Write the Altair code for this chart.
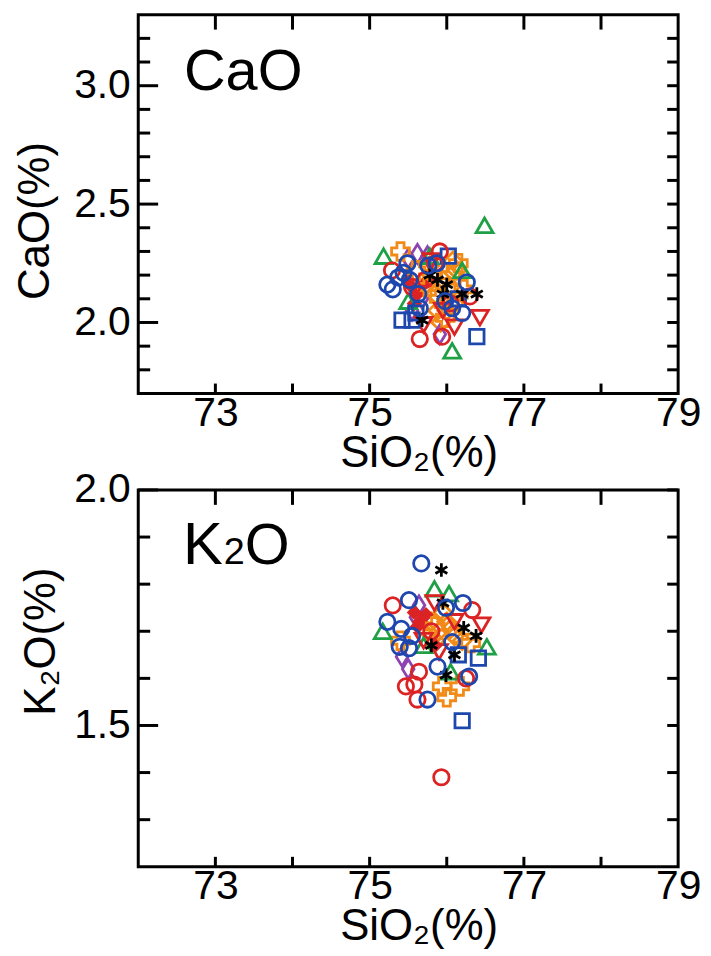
import altair as alt
import pandas as pd

# ---------------- data: upper panel (SiO2 vs CaO) ----------------
CAO_RED_CIRCLE_SIO2 = [75.91, 75.29, 76.30, 75.65, 75.94, 75.55, 75.72, 76.05, 75.85]
CAO_RED_CIRCLE_CAO = [2.30, 2.22, 2.11, 1.93, 1.94, 2.15, 2.18, 2.08, 2.25]
CAO_BLUE_CIRCLE_SIO2 = [75.49, 75.76, 75.87, 75.23, 75.37, 75.44, 76.26, 75.63, 75.65, 75.98, 76.07, 76.20, 75.30, 75.52]
CAO_BLUE_CIRCLE_CAO = [2.25, 2.24, 2.25, 2.16, 2.19, 2.21, 2.17, 2.12, 2.06, 2.09, 2.06, 2.04, 2.14, 2.18]
CAO_BLUE_SQUARE_SIO2 = [75.42, 75.55, 76.39, 75.60, 76.15, 76.02]
CAO_BLUE_SQUARE_CAO = [2.01, 2.01, 1.94, 2.04, 2.10, 2.28]
CAO_GREEN_TRI_SIO2 = [76.49, 75.18, 75.78, 76.07, 75.50, 76.20]
CAO_GREEN_TRI_CAO = [2.41, 2.28, 2.28, 1.88, 2.09, 2.22]
CAO_RED_TRIDOWN_SIO2 = [76.43, 75.80, 75.70, 76.10, 75.95]
CAO_RED_TRIDOWN_CAO = [2.02, 2.26, 1.99, 1.98, 2.05]
CAO_ORANGE_CROSS_SIO2 = [75.40, 75.75, 76.05, 76.15, 75.90, 75.60, 76.22, 75.98]
CAO_ORANGE_CROSS_CAO = [2.30, 2.15, 2.20, 2.25, 2.10, 2.22, 2.14, 2.02]
CAO_ORANGE_DIAMOND_SIO2 = [75.85, 75.95, 76.00, 76.10, 75.80, 75.70, 76.13, 75.92, 76.05, 75.88, 76.00, 75.78, 76.08]
CAO_ORANGE_DIAMOND_CAO = [2.12, 2.18, 2.05, 2.08, 2.20, 2.15, 2.22, 2.00, 2.15, 2.05, 2.10, 2.24, 2.26]
CAO_PURPLE_DIAMOND_SIO2 = [75.62, 75.50, 75.68, 75.91, 75.75, 75.55]
CAO_PURPLE_DIAMOND_CAO = [2.29, 2.27, 2.10, 1.95, 2.28, 2.05]
CAO_RED_FILLED_SIO2 = [75.55, 75.62, 75.50, 75.70, 75.58]
CAO_RED_FILLED_CAO = [2.15, 2.12, 2.18, 2.16, 2.08]
CAO_ASTERISK_SIO2 = [76.20, 76.39, 75.68, 75.88, 76.00, 75.95, 75.78]
CAO_ASTERISK_CAO = [2.12, 2.12, 2.01, 2.18, 2.16, 2.12, 2.20]

# ---------------- data: lower panel (SiO2 vs K2O) ----------------
K2O_RED_CIRCLE_SIO2 = [75.30, 76.33, 75.64, 75.47, 75.58, 75.62, 75.93, 75.80, 76.25]
K2O_RED_CIRCLE_K2O = [1.755, 1.745, 1.614, 1.583, 1.587, 1.555, 1.39, 1.70, 1.60]
K2O_BLUE_CIRCLE_SIO2 = [75.67, 75.51, 75.99, 76.21, 75.23, 75.41, 76.07, 75.39, 75.51, 75.88, 76.29, 75.75, 75.55]
K2O_BLUE_CIRCLE_K2O = [1.844, 1.766, 1.75, 1.76, 1.72, 1.705, 1.677, 1.667, 1.664, 1.625, 1.604, 1.555, 1.69]
K2O_BLUE_SQUARE_SIO2 = [76.41, 76.20, 76.15]
K2O_BLUE_SQUARE_K2O = [1.643, 1.51, 1.65]
K2O_GREEN_TRI_SIO2 = [75.84, 76.03, 75.17, 76.52, 76.05, 75.70]
K2O_GREEN_TRI_K2O = [1.79, 1.78, 1.70, 1.667, 1.614, 1.67]
K2O_RED_TRIDOWN_SIO2 = [75.84, 76.45, 75.90, 75.70, 76.10]
K2O_RED_TRIDOWN_K2O = [1.76, 1.713, 1.656, 1.68, 1.72]
K2O_ORANGE_CROSS_SIO2 = [76.31, 75.94, 76.00, 76.17, 75.85, 75.40]
K2O_ORANGE_CROSS_K2O = [1.675, 1.583, 1.56, 1.583, 1.71, 1.68]
K2O_ORANGE_DIAMOND_SIO2 = [75.80, 75.90, 76.00, 76.10, 75.85, 75.95, 76.20, 75.75, 76.05]
K2O_ORANGE_DIAMOND_K2O = [1.72, 1.70, 1.72, 1.69, 1.68, 1.74, 1.68, 1.70, 1.705]
K2O_PURPLE_DIAMOND_SIO2 = [75.64, 75.42, 75.50, 75.60]
K2O_PURPLE_DIAMOND_K2O = [1.755, 1.646, 1.62, 1.73]
K2O_RED_FILLED_SIO2 = [75.58, 75.65, 75.73, 75.62, 75.85]
K2O_RED_FILLED_K2O = [1.74, 1.72, 1.735, 1.71, 1.67]
K2O_ASTERISK_SIO2 = [75.93, 76.22, 76.38, 75.99, 75.80, 76.10, 75.95]
K2O_ASTERISK_K2O = [1.83, 1.707, 1.69, 1.607, 1.67, 1.65, 1.76]

# ---------------- axis ticks / labels ----------------
X_LABELS = [73, 75, 77, 79]
X_TICKS = [73, 74, 75, 76, 77, 78]
CAO_LABELS = [2.0, 2.5, 3.0]
CAO_MINOR = [1.8, 1.9, 2.1, 2.2, 2.3, 2.4, 2.6, 2.7, 2.8, 2.9, 3.1, 3.2]
K2O_LABELS = [1.5, 2.0]
K2O_MINOR = [1.3, 1.4, 1.6, 1.7, 1.8, 1.9]

FONT = "Liberation Sans, Arial, Helvetica, sans-serif"
RED, BLUE, GREEN = "#dc2323", "#1d47ad", "#1fa045"
ORANGE, PURPLE, BLACK = "#f28a17", "#8e44b0", "#000000"
ASTERISK = "M0,-1L0,1M-0.866,-0.5L0.866,0.5M-0.866,0.5L0.866,-0.5"
TALL_DIAMOND = "M0,-1L0.62,0L0,1L-0.62,0Z"

STYLES = {
    "red_circle": dict(shape="circle", color=RED, size=240, filled=False),
    "blue_circle": dict(shape="circle", color=BLUE, size=240, filled=False),
    "blue_square": dict(shape="square", color=BLUE, size=210, filled=False),
    "green_tri": dict(shape="triangle-up", color=GREEN, size=290, filled=False),
    "red_tridown": dict(shape="triangle-down", color=RED, size=290, filled=False),
    "orange_cross": dict(shape="cross", color=ORANGE, size=320, filled=False),
    "orange_diamond": dict(shape="diamond", color=ORANGE, size=320, filled=False),
    "purple_diamond": dict(shape=TALL_DIAMOND, color=PURPLE, size=360, filled=False),
    "red_filled": dict(shape="diamond", color=RED, size=240, filled=True),
    "asterisk": dict(shape=ASTERISK, color=BLACK, size=190, filled=False),
}

W = 543


def panel(series, ydomain, ylabels, yminor, ytitle, title_x, title_y, height, label_layers):
    xscale = alt.Scale(domain=[72, 79], nice=False, zero=False)
    yscale = alt.Scale(domain=ydomain, nice=False, zero=False)
    xaxis = alt.Axis(values=X_LABELS, format="d", ticks=False, domain=False, grid=False,
                     labelFontSize=41, labelPadding=0, labelFlush=False, labelOverlap=False,
                     title="SiO₂(%)", titleFontSize=44, titleX=282, titleY=73,
                     titleAlign="center", titleBaseline="alphabetic")
    yaxis = alt.Axis(values=ylabels, format=".1f", ticks=False, domain=False, grid=False,
                     labelFontSize=41, labelPadding=8, labelFlush=False, labelOverlap=False,
                     title=ytitle, titleFontSize=44, titleAngle=270, titleX=title_x, titleY=title_y,
                     titleAlign="center", titleBaseline="alphabetic")
    X = lambda f: alt.X(f, scale=xscale, axis=xaxis)
    Y = lambda f: alt.Y(f, scale=yscale, axis=yaxis)
    layers = []
    for key, xs, ys in series:
        st = STYLES[key]
        df = pd.DataFrame({"SiO2": xs, "val": ys})
        mark = alt.Chart(df).mark_point(shape=st["shape"], size=st["size"], filled=st["filled"],
                                        color=st["color"], opacity=1,
                                        strokeWidth=(0 if st["filled"] else 2.8))
        layers.append(mark.encode(x=X("SiO2:Q"), y=Y("val:Q")))

    def yrule(vals, x0, x1):
        return alt.Chart(pd.DataFrame({"t": vals})).mark_rule(color="black", strokeWidth=3).encode(
            y=Y("t:Q"), x=alt.value(x0), x2=alt.value(x1))

    def xrule(vals, y0, y1):
        return alt.Chart(pd.DataFrame({"t": vals})).mark_rule(color="black", strokeWidth=3).encode(
            x=X("t:Q"), y=alt.value(y0), y2=alt.value(y1))

    layers += [
        yrule(yminor, 0, 12),
        yrule(ylabels, 0, 20),
        yrule(yminor + ylabels, W - 11, W),
        xrule(X_TICKS, 0, 15),
        xrule(X_TICKS, height - 10, height),
    ]
    layers += label_layers
    return alt.layer(*layers).properties(width=W, height=height)


def text_layer(t, x, y, size):
    return alt.Chart(pd.DataFrame({"t": [t]})).mark_text(
        align="left", baseline="alphabetic", fontSize=size, font=FONT, color="black").encode(
        text="t:N", x=alt.value(x), y=alt.value(y))


top_series = [
    ("orange_diamond", CAO_ORANGE_DIAMOND_SIO2, CAO_ORANGE_DIAMOND_CAO),
    ("purple_diamond", CAO_PURPLE_DIAMOND_SIO2, CAO_PURPLE_DIAMOND_CAO),
    ("red_filled", CAO_RED_FILLED_SIO2, CAO_RED_FILLED_CAO),
    ("orange_cross", CAO_ORANGE_CROSS_SIO2, CAO_ORANGE_CROSS_CAO),
    ("green_tri", CAO_GREEN_TRI_SIO2, CAO_GREEN_TRI_CAO),
    ("red_tridown", CAO_RED_TRIDOWN_SIO2, CAO_RED_TRIDOWN_CAO),
    ("blue_square", CAO_BLUE_SQUARE_SIO2, CAO_BLUE_SQUARE_CAO),
    ("red_circle", CAO_RED_CIRCLE_SIO2, CAO_RED_CIRCLE_CAO),
    ("asterisk", CAO_ASTERISK_SIO2, CAO_ASTERISK_CAO),
    ("blue_circle", CAO_BLUE_CIRCLE_SIO2, CAO_BLUE_CIRCLE_CAO),
]
bottom_series = [
    ("orange_diamond", K2O_ORANGE_DIAMOND_SIO2, K2O_ORANGE_DIAMOND_K2O),
    ("purple_diamond", K2O_PURPLE_DIAMOND_SIO2, K2O_PURPLE_DIAMOND_K2O),
    ("red_filled", K2O_RED_FILLED_SIO2, K2O_RED_FILLED_K2O),
    ("orange_cross", K2O_ORANGE_CROSS_SIO2, K2O_ORANGE_CROSS_K2O),
    ("green_tri", K2O_GREEN_TRI_SIO2, K2O_GREEN_TRI_K2O),
    ("red_tridown", K2O_RED_TRIDOWN_SIO2, K2O_RED_TRIDOWN_K2O),
    ("blue_square", K2O_BLUE_SQUARE_SIO2, K2O_BLUE_SQUARE_K2O),
    ("red_circle", K2O_RED_CIRCLE_SIO2, K2O_RED_CIRCLE_K2O),
    ("asterisk", K2O_ASTERISK_SIO2, K2O_ASTERISK_K2O),
    ("blue_circle", K2O_BLUE_CIRCLE_SIO2, K2O_BLUE_CIRCLE_K2O),
]

top = panel(top_series, [1.7, 3.3], CAO_LABELS, CAO_MINOR, "CaO(%)", -90, 207, 381,
            [text_layer("CaO", 46, 76, 58)])
bottom = panel(bottom_series, [1.2, 2.0], K2O_LABELS, K2O_MINOR, "K₂O(%)", -84, 152, 379,
               [text_layer("K", 45, 74, 60), text_layer("2", 86, 74, 38), text_layer("O", 107, 74, 58)])

chart = alt.vconcat(top, bottom, spacing=97, bounds="flush").properties(
    padding={"left": 4, "top": 1, "right": 0, "bottom": 0}
).configure_view(stroke="black", strokeWidth=3).configure_axis(
    labelFont=FONT, titleFont=FONT, labelColor="black", titleColor="black",
    titleFontWeight="normal", labelFontWeight="normal"
)

chart.save("out.html", embed_options={"renderer": "svg", "actions": False})
